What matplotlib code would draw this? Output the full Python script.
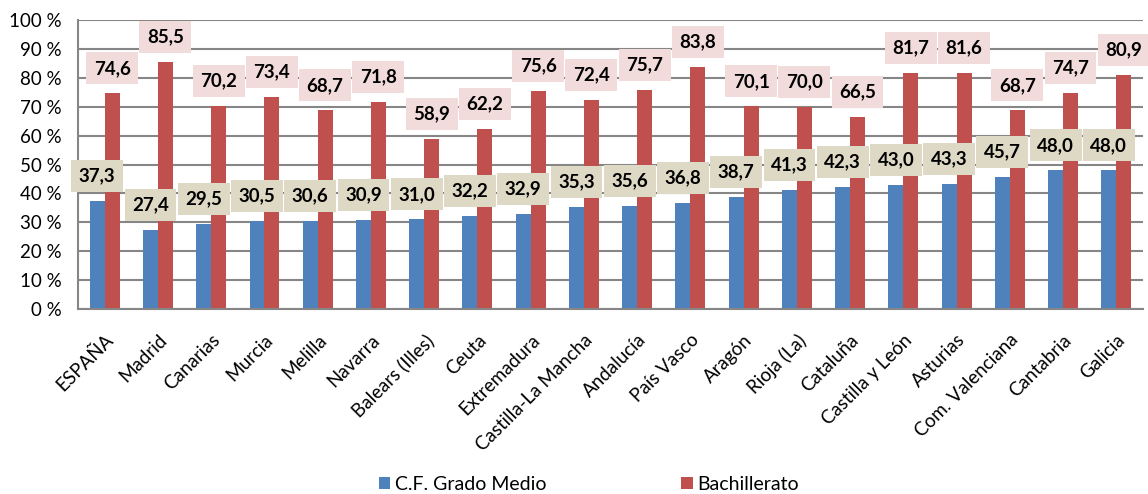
import numpy as np
import matplotlib.pyplot as plt

# Datos
regiones = ['ESPAÑA', 'Madrid', 'Canarias', 'Murcia', 'Melilla', 'Navarra', 'Balears (Illes)',
            'Ceuta', 'Extremadura', 'Castilla-La Mancha', 'Andalucía', 'País Vasco', 'Aragón',
            'Rioja (La)', 'Cataluña', 'Castilla y León', 'Asturias', 'Com. Valenciana',
            'Cantabria', 'Galicia']
grado_medio = [37.3, 27.4, 29.5, 30.5, 30.6, 30.9, 31.0, 32.2, 32.9, 35.3,
               35.6, 36.8, 38.7, 41.3, 42.3, 43.0, 43.3, 45.7, 48.0, 48.0]
bachillerato = [74.6, 85.5, 70.2, 73.4, 68.7, 71.8, 58.9, 62.2, 75.6, 72.4,
                75.7, 83.8, 70.1, 70.0, 66.5, 81.7, 81.6, 68.7, 74.7, 80.9]
yticks = [0, 10, 20, 30, 40, 50, 60, 70, 80, 90, 100]

plt.rcParams['font.family'] = ['Lato', 'DejaVu Sans']

azul = '#4F81BD'
rojo = '#C0504D'
x = np.arange(len(regiones))
w = 0.28

fig = plt.figure(figsize=(11.48, 4.94), dpi=100)
ax = fig.add_axes([0.068, 0.3745, 0.9276, 0.585])

b1 = ax.bar(x - w / 2, grado_medio, w, color=azul, label='C.F. Grado Medio', zorder=2)
b2 = ax.bar(x + w / 2, bachillerato, w, color=rojo, label='Bachillerato', zorder=2)

# Etiquetas de valores
for xi, v in zip(x - w / 2, grado_medio):
    ax.annotate(f'{v:.1f}'.replace('.', ','), (xi, v), xytext=(0, 18), textcoords='offset points',
                ha='center', va='center', fontsize=13.5, fontweight='bold', zorder=5,
                bbox=dict(boxstyle='square,pad=0.4', fc='#DDD9C4', ec='none'))
for xi, v in zip(x + w / 2, bachillerato):
    ax.annotate(f'{v:.1f}'.replace('.', ','), (xi, v), xytext=(0, 18), textcoords='offset points',
                ha='center', va='center', fontsize=13.5, fontweight='bold', zorder=5,
                bbox=dict(boxstyle='square,pad=0.4', fc='#F2DCDB', ec='none'))

ax.set_xlim(-0.5, len(regiones) - 0.5)
ax.set_ylim(0, 100)
ax.set_yticks(yticks)
ax.set_yticklabels([f'{t} %' for t in yticks], fontsize=13.5)
ax.set_xticks(x)
ax.set_xticklabels(regiones, rotation=45, ha='right', rotation_mode='anchor', fontsize=13.5)
ax.tick_params(axis='y', length=0, pad=12)
ax.tick_params(axis='x', length=0, pad=16)
ax.grid(axis='y', color='#868686', linewidth=1.5, zorder=0)
for s in ['top', 'right']:
    ax.spines[s].set_visible(False)
for s in ['left', 'bottom']:
    ax.spines[s].set_color('#868686')
    ax.spines[s].set_linewidth(1.5)

fig.legend(handles=[b1, b2], loc='center', bbox_to_anchor=(0.513, 0.02), ncol=2, frameon=False,
           fontsize=14, handlelength=0.6, handleheight=0.6, handletextpad=0.25, columnspacing=6.9)

fig.savefig('out.png', dpi=100)
